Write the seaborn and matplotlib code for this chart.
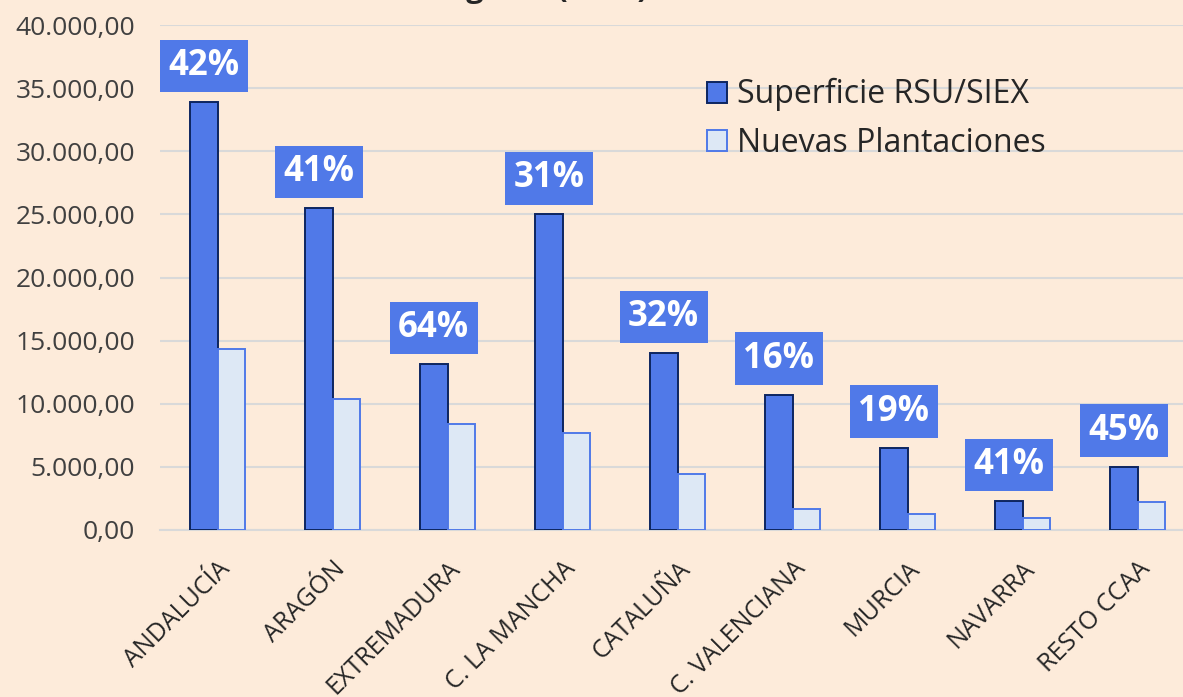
import pandas as pd
import matplotlib
matplotlib.use('Agg')
import matplotlib.pyplot as plt
import seaborn as sns

# Data
regiones = ['ANDALUCÍA', 'ARAGÓN', 'EXTREMADURA', 'C. LA MANCHA', 'CATALUÑA',
            'C. VALENCIANA', 'MURCIA', 'NAVARRA', 'RESTO CCAA']
superficie_rsu = [33900, 25500, 13150, 25000, 14000, 10700, 6500, 2300, 5000]
nuevas_plantaciones = [14350, 10400, 8400, 7700, 4450, 1700, 1250, 950, 2250]
porcentajes = ['42%', '41%', '64%', '31%', '32%', '16%', '19%', '41%', '45%']
series = ['Superficie RSU/SIEX', 'Nuevas Plantaciones']
y_ticks = [0, 5000, 10000, 15000, 20000, 25000, 30000, 35000, 40000]

BG = '#FDEBDA'
DARK = '#5079E8'
DARK_EDGE = '#0D2560'
LIGHT = '#DDE8F5'
GRID = '#D9D9D9'
TEXT = '#404040'

df = pd.DataFrame({
    'region': regiones * 2,
    'valor': superficie_rsu + nuevas_plantaciones,
    'serie': [series[0]] * len(regiones) + [series[1]] * len(regiones),
})

sns.set_style('white')
plt.rcParams['font.family'] = ['Open Sans', 'DejaVu Sans']

fig = plt.figure(figsize=(11.83, 6.97), dpi=100, facecolor=BG)
ax = fig.add_axes([160 / 1183, 167 / 697, (1183 - 160) / 1183, 505 / 697])
ax.set_facecolor(BG)

sns.barplot(data=df, x='region', y='valor', hue='serie', order=regiones,
            hue_order=series, palette=[DARK, LIGHT], saturation=1, width=0.48,
            ax=ax, legend=True, zorder=3)

# bar edges per series
for bar in ax.containers[0]:
    bar.set_edgecolor(DARK_EDGE)
    bar.set_linewidth(1.4)
for bar in ax.containers[1]:
    bar.set_edgecolor(DARK)
    bar.set_linewidth(1.4)

ax.set_ylim(0, 40000)
ax.set_xlim(-0.5, 8.5 - 12 / 115)
ax.set_yticks(y_ticks)
ax.set_yticklabels([f'{v:,.2f}'.replace(',', 'X').replace('.', ',').replace('X', '.') for v in y_ticks],
                   fontsize=19, color=TEXT)
ax.set_xticks(range(len(regiones)))
ax.set_xticklabels(regiones, rotation=45, ha='right', rotation_mode='anchor',
                   fontsize=18, color='#262626')
ax.tick_params(axis='y', length=0, pad=18)
ax.tick_params(axis='x', length=0, pad=19)
ax.set_xlabel('')
ax.set_ylabel('')

ax.yaxis.grid(True, color=GRID, linewidth=1.5, zorder=0)
for s in ['top', 'right', 'left']:
    ax.spines[s].set_visible(False)
ax.spines['bottom'].set_color(GRID)
ax.spines['bottom'].set_linewidth(1.5)

# percentage labels over the dark bars
for bar, pct in zip(ax.containers[0], porcentajes):
    cx = bar.get_x() + bar.get_width() / 2
    ax.annotate(pct, xy=(cx, bar.get_height()), xytext=(0, 26),
                textcoords='offset points', ha='center', va='center',
                fontsize=25, fontweight='bold', color='white', zorder=5,
                bbox=dict(boxstyle='square,pad=0.24', fc=DARK, ec='none'))

leg = ax.legend(loc='upper left', bbox_to_anchor=(0.522, 0.92), frameon=False,
                fontsize=23, handlelength=0.63, handleheight=0.63,
                handletextpad=0.33, labelspacing=0.48, borderaxespad=0)
for txt in leg.get_texts():
    txt.set_color('#262626')
handles = leg.legend_handles
handles[0].set_edgecolor(DARK_EDGE)
handles[1].set_edgecolor(DARK)
for h in handles:
    h.set_linewidth(1.4)

# title, mostly above the visible area as in the reference
fig.text(648 / 1183, 1 + 3 / 697, 'Hectáreas de viñedo en Regadío (2023)',
         ha='right', va='baseline', fontsize=22, fontweight='bold', color='#262626')

fig.savefig('out.png', dpi=100, facecolor=BG)
